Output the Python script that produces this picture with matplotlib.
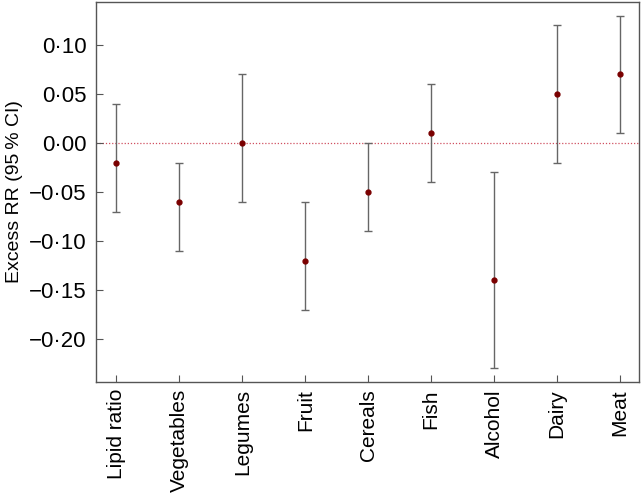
import matplotlib
matplotlib.use("Agg")
import matplotlib.pyplot as plt
from matplotlib.ticker import FixedLocator, FuncFormatter

plt.rcParams['font.family'] = ['Liberation Sans', 'DejaVu Sans']

# Excess RR with 95 % CI for each food group
categories = ['Lipid ratio', 'Vegetables', 'Legumes', 'Fruit', 'Cereals',
              'Fish', 'Alcohol', 'Dairy', 'Meat']
rr = [-0.02, -0.06, 0.00, -0.12, -0.05, 0.01, -0.14, 0.05, 0.07]
ci_low = [-0.07, -0.11, -0.06, -0.17, -0.09, -0.04, -0.23, -0.02, 0.01]
ci_high = [0.04, -0.02, 0.07, -0.06, 0.00, 0.06, -0.03, 0.12, 0.13]
y_ticks = [-0.20, -0.15, -0.10, -0.05, 0.00, 0.05, 0.10]

fig = plt.figure(figsize=(6.41, 4.93), dpi=100)
ax = fig.add_axes([0.150, 0.225, 0.847, 0.771])

x = list(range(len(categories)))
err = [[r - lo for r, lo in zip(rr, ci_low)],
       [hi - r for r, hi in zip(rr, ci_high)]]

ax.axhline(0, color='#d05060', linestyle=(0, (1, 1.5)), linewidth=0.9, zorder=1)
ax.errorbar(x, rr, yerr=err, fmt='none', ecolor='#666666', elinewidth=1.0,
            capsize=3.2, capthick=1.0, zorder=2)
ax.plot(x, rr, 'o', color='#7a0000', markersize=3.5, zorder=3)

ax.set_xlim(-0.32, 8.3)
ax.set_ylim(-0.244, 0.144)
ax.set_xticks(x)
ax.set_xticklabels(categories, rotation=90, fontsize=15)
ax.yaxis.set_major_locator(FixedLocator(y_ticks))


def fmt(v, pos):
    s = f"{abs(v):.2f}".replace('.', '\u00b7')
    return ('\u2212' + s) if v < -1e-9 else s


ax.yaxis.set_major_formatter(FuncFormatter(fmt))
ax.tick_params(axis='y', labelsize=16, direction='in', length=5, color='#555555', pad=7)
ax.tick_params(axis='x', direction='in', length=5, color='#555555', pad=5)
ax.set_ylabel('Excess RR (95\u2009% CI)', fontsize=14, labelpad=4)

for sp in ax.spines.values():
    sp.set_color('#555555')
    sp.set_linewidth(1.0)

fig.savefig('out.png', dpi=100)
